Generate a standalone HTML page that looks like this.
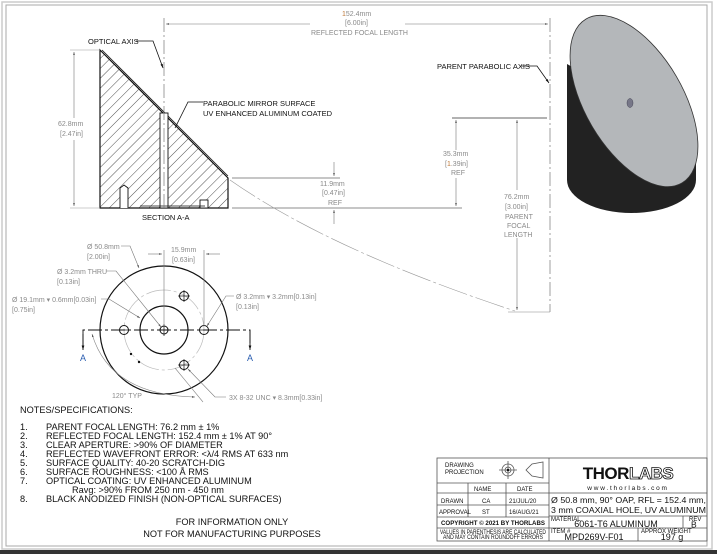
<!DOCTYPE html>
<html><head><meta charset="utf-8"><style>
html,body{margin:0;padding:0;background:#fff;}
svg{display:block;font-family:"Liberation Sans",sans-serif;}
.g{fill:#8a8a8a;font-size:7px;}
.o{fill:#c07a3a;}
.k{fill:#111;font-size:7.5px;}
.n{fill:#111;font-size:9.2px;}
.t{fill:#111;font-size:6px;}
</style></head><body>
<svg width="717" height="554" viewBox="0 0 717 554" xmlns="http://www.w3.org/2000/svg">
<defs>
<pattern id="h" width="7" height="7" patternUnits="userSpaceOnUse" patternTransform="rotate(45)">
<line x1="0" y1="0" x2="0" y2="7" stroke="#222" stroke-width="0.8"/></pattern>
<marker id="a" viewBox="0 0 10 10" refX="10" refY="5" markerWidth="7" markerHeight="5" orient="auto-start-reverse"><path d="M0,2 L10,5 L0,8 z" fill="#555"/></marker>
<marker id="ab" viewBox="0 0 10 10" refX="10" refY="5" markerWidth="7" markerHeight="5" orient="auto-start-reverse"><path d="M0,2 L10,5 L0,8 z" fill="#111"/></marker>
</defs>
<rect x="0" y="0" width="717" height="554" fill="#fff"/>
<rect x="2" y="2" width="710" height="547" fill="none" stroke="#ccc" stroke-width="1.5"/>
<rect x="6" y="5" width="701" height="541" fill="none" stroke="#aaa" stroke-width="1"/>
<rect x="0" y="550" width="717" height="4" fill="#333"/>

<!-- Section view -->
<path d="M100,50 L228,178 L228,208 L100,208 Z" fill="url(#h)" stroke="#111" stroke-width="1.2"/>
<line x1="102" y1="50" x2="228" y2="176" stroke="#111" stroke-width="0.8"/>
<rect x="160" y="113" width="8" height="95" fill="#fff" stroke="#111" stroke-width="0.9"/>
<path d="M120,208 V188 L124,185 L128,188 V208" fill="#fff" stroke="#111" stroke-width="0.9"/>
<rect x="200" y="200" width="8" height="8" fill="#fff" stroke="#111" stroke-width="0.9"/>
<line x1="140" y1="206" x2="205" y2="206" stroke="#111" stroke-width="0.8"/>
<line x1="164" y1="18" x2="164" y2="208" stroke="#777" stroke-width="0.7" stroke-dasharray="14,3,2,3"/>
<text x="142" y="220" class="k">SECTION A-A</text>
<text x="88" y="44" class="k">OPTICAL AXIS</text>
<polyline points="136,41 153,41 163,68" fill="none" stroke="#111" stroke-width="0.8" marker-end="url(#ab)"/>
<text x="203" y="106" class="k">PARABOLIC MIRROR SURFACE</text>
<text x="203" y="116" class="k">UV ENHANCED ALUMINUM COATED</text>
<polyline points="203,102 188,102 175,128" fill="none" stroke="#111" stroke-width="0.8"/>

<!-- 62.8 -->
<line x1="70" y1="50" x2="100" y2="50" stroke="#999" stroke-width="0.6"/>
<line x1="70" y1="208" x2="100" y2="208" stroke="#999" stroke-width="0.6"/>
<line x1="74" y1="52" x2="74" y2="118" stroke="#777" stroke-width="0.6" marker-start="url(#a)"/>
<line x1="74" y1="140" x2="74" y2="206" stroke="#777" stroke-width="0.6" marker-end="url(#a)"/>
<text x="58" y="126" class="g">62.8mm</text>
<text x="60" y="136" class="g">[2.47in]</text>

<!-- 152.4 -->
<line x1="166" y1="24" x2="310" y2="24" stroke="#777" stroke-width="0.6" marker-start="url(#a)"/>
<line x1="405" y1="24" x2="548" y2="24" stroke="#777" stroke-width="0.6" marker-end="url(#a)"/>
<text x="342" y="16" class="g"><tspan class="o">1</tspan>52.4mm</text>
<text x="345" y="25" class="g">[6.00in]</text>
<text x="311" y="35" class="g">REFLECTED FOCAL LENGTH</text>
<line x1="550" y1="18" x2="550" y2="312" stroke="#777" stroke-width="0.7" stroke-dasharray="14,3,2,3"/>
<text x="437" y="69" class="k">PARENT PARABOLIC AXIS</text>
<polyline points="521,66 537,66 549,83" fill="none" stroke="#111" stroke-width="0.8" marker-end="url(#ab)"/>

<!-- right dims -->
<line x1="452" y1="118" x2="547" y2="118" stroke="#666" stroke-width="1"/>
<line x1="232" y1="208" x2="462" y2="208" stroke="#666" stroke-width="0.8"/>
<line x1="232" y1="178" x2="340" y2="178" stroke="#666" stroke-width="0.8"/>
<line x1="456" y1="120" x2="456" y2="150" stroke="#777" stroke-width="0.6" marker-start="url(#a)"/>
<line x1="456" y1="178" x2="456" y2="206" stroke="#777" stroke-width="0.6" marker-end="url(#a)"/>
<text x="443" y="156" class="g">35.3mm</text>
<text x="445" y="166" class="g">[<tspan class="o">1</tspan>.39in]</text>
<text x="451" y="175" class="g">REF</text>
<line x1="334" y1="162" x2="334" y2="176" stroke="#777" stroke-width="0.6" marker-end="url(#a)"/>
<line x1="334" y1="224" x2="334" y2="210" stroke="#777" stroke-width="0.6" marker-end="url(#a)"/>
<text x="320" y="186" class="g">11.9mm</text>
<text x="322" y="195" class="g">[0.47in]</text>
<text x="328" y="205" class="g">REF</text>
<line x1="517" y1="120" x2="517" y2="190" stroke="#777" stroke-width="0.6" marker-start="url(#a)"/>
<line x1="517" y1="238" x2="517" y2="310" stroke="#777" stroke-width="0.6" marker-end="url(#a)"/>
<text x="504" y="199" class="g">76.2mm</text>
<text x="505" y="209" class="g">[3.00in]</text>
<text x="505" y="219" class="g">PARENT</text>
<text x="507" y="228" class="g">FOCAL</text>
<text x="504" y="237" class="g">LENGTH</text>
<line x1="508" y1="312" x2="550" y2="312" stroke="#888" stroke-width="0.6"/>
<path d="M230,180 Q330,250 515,311" fill="none" stroke="#999" stroke-width="0.6" stroke-dasharray="30,3,3,3"/>

<!-- cylinder -->
<path d="M567,64 L567,180 A64.5,33 0 0 0 696,180 L696,136 Z" fill="#222"/>
<ellipse cx="634" cy="101" rx="95" ry="49" transform="rotate(59.7 634 101)" fill="#b4b7ba" stroke="#333" stroke-width="0.8"/>
<ellipse cx="630" cy="103" rx="3" ry="4.5" fill="#778" stroke="#445" stroke-width="0.5"/>

<!-- front view -->
<circle cx="164" cy="330" r="64" fill="none" stroke="#111" stroke-width="1.2"/>
<circle cx="164" cy="330" r="24" fill="none" stroke="#111" stroke-width="1.2"/>
<circle cx="164" cy="330" r="40" fill="none" stroke="#bbb" stroke-width="0.7" stroke-dasharray="25,3,3,3"/>
<g fill="none" stroke="#111" stroke-width="1">
<circle cx="164" cy="330" r="4"/><circle cx="124" cy="330" r="4.5"/><circle cx="204" cy="330" r="4.5"/>
<circle cx="184" cy="296" r="4.5"/><circle cx="184" cy="365" r="4.5"/>
</g>
<g stroke="#111" stroke-width="0.7">
<line x1="158" y1="330" x2="170" y2="330"/><line x1="164" y1="324" x2="164" y2="336"/>
<line x1="118" y1="330" x2="130" y2="330"/><line x1="198" y1="330" x2="210" y2="330"/>
<line x1="184" y1="290" x2="184" y2="302"/><line x1="178" y1="296" x2="190" y2="296"/>
<line x1="184" y1="359" x2="184" y2="371"/><line x1="178" y1="365" x2="190" y2="365"/>
</g>
<circle cx="131" cy="354" r="1.2" fill="#111"/><circle cx="139" cy="362" r="1.2" fill="#111"/>
<polyline points="83,348 83,330 250,330 250,348" fill="none" stroke="#111" stroke-width="0.9" stroke-dasharray="14,3,3,3"/>
<line x1="83" y1="330" x2="83" y2="350" stroke="#111" stroke-width="0.9" marker-end="url(#ab)"/>
<line x1="250" y1="330" x2="250" y2="350" stroke="#111" stroke-width="0.9" marker-end="url(#ab)"/>
<text x="80" y="361" fill="#2a5db0" font-size="9">A</text>
<text x="247" y="361" fill="#2a5db0" font-size="9">A</text>
<line x1="164" y1="250" x2="164" y2="326" stroke="#777" stroke-width="0.6"/>
<line x1="204" y1="250" x2="204" y2="326" stroke="#777" stroke-width="0.6"/>
<line x1="148" y1="254" x2="162" y2="254" stroke="#777" stroke-width="0.6" marker-end="url(#a)"/>
<line x1="220" y1="254" x2="206" y2="254" stroke="#777" stroke-width="0.6" marker-end="url(#a)"/>
<text x="171" y="252" class="g">15.9mm</text>
<text x="172" y="262" class="g">[0.63in]</text>
<text x="87" y="249" class="g">Ø 50.8mm</text>
<text x="87" y="259" class="g">[2.00in]</text>
<polyline points="121,246 130,246 139,268" fill="none" stroke="#777" stroke-width="0.6" marker-end="url(#a)"/>
<text x="57" y="274" class="g">Ø 3.2mm THRU</text>
<text x="57" y="284" class="g">[0.13in]</text>
<polyline points="106,271 116,271 161,327" fill="none" stroke="#777" stroke-width="0.6" marker-end="url(#a)"/>
<text x="12" y="302" class="g">Ø 19.1mm ▾ 0.6mm[0.03in]</text>
<text x="12" y="312" class="g">[0.75in]</text>
<polyline points="101,299 109,299 140,318" fill="none" stroke="#777" stroke-width="0.6" marker-end="url(#a)"/>
<text x="236" y="299" class="g">Ø 3.2mm ▾ 3.2mm[0.13in]</text>
<text x="236" y="309" class="g">[0.13in]</text>
<polyline points="234,296 226,296 207,326" fill="none" stroke="#777" stroke-width="0.6" marker-end="url(#a)"/>
<text x="229" y="400" class="g">3X 8-32 UNC ▾ 8.3mm[0.33in]</text>
<polyline points="226,397 215,397 188,369" fill="none" stroke="#777" stroke-width="0.6" marker-end="url(#a)"/>
<text x="112" y="398" class="g">120° TYP</text>
<path d="M92,334 Q110,395 195,397" fill="none" stroke="#888" stroke-width="0.6" marker-start="url(#a)" marker-end="url(#a)"/>
<line x1="175" y1="368" x2="203" y2="402" stroke="#888" stroke-width="0.6"/>

<!-- notes -->
<text x="20" y="413" class="n" font-size="8.5">NOTES/SPECIFICATIONS:</text>
<g class="n">
<text x="20" y="430">1.</text><text x="46" y="430">PARENT FOCAL LENGTH: 76.2 mm ± 1%</text>
<text x="20" y="439">2.</text><text x="46" y="439">REFLECTED FOCAL LENGTH: 152.4 mm ± 1% AT 90°</text>
<text x="20" y="448">3.</text><text x="46" y="448">CLEAR APERTURE: &gt;90% OF DIAMETER</text>
<text x="20" y="457">4.</text><text x="46" y="457">REFLECTED WAVEFRONT ERROR: &lt;λ/4 RMS AT 633 nm</text>
<text x="20" y="466">5.</text><text x="46" y="466">SURFACE QUALITY: 40-20 SCRATCH-DIG</text>
<text x="20" y="475">6.</text><text x="46" y="475">SURFACE ROUGHNESS: &lt;100 Å RMS</text>
<text x="20" y="484">7.</text><text x="46" y="484">OPTICAL COATING: UV ENHANCED ALUMINUM</text>
<text x="72" y="493">Ravg: &gt;90% FROM 250 nm - 450 nm</text>
<text x="20" y="502">8.</text><text x="46" y="502">BLACK ANODIZED FINISH (NON-OPTICAL SURFACES)</text>
</g>
<text x="232" y="525" class="n" text-anchor="middle" font-size="9.8">FOR INFORMATION ONLY</text>
<text x="232" y="537" class="n" text-anchor="middle" font-size="9.8">NOT FOR MANUFACTURING PURPOSES</text>

<!-- title block -->
<g fill="none" stroke="#555" stroke-width="0.8">
<rect x="437" y="458" width="270" height="83"/>
<line x1="549" y1="458" x2="549" y2="541"/>
<line x1="437" y1="483" x2="549" y2="483"/>
<line x1="437" y1="493" x2="549" y2="493"/>
<line x1="437" y1="505" x2="549" y2="505"/>
<line x1="437" y1="517" x2="549" y2="517"/>
<line x1="437" y1="528" x2="549" y2="528"/>
<line x1="468" y1="483" x2="468" y2="517"/>
<line x1="506" y1="483" x2="506" y2="517"/>
<line x1="549" y1="493" x2="707" y2="493"/>
<line x1="549" y1="516" x2="707" y2="516"/>
<line x1="549" y1="528" x2="707" y2="528"/>
<line x1="683" y1="516" x2="683" y2="528"/>
<line x1="638" y1="528" x2="638" y2="541"/>
<circle cx="508" cy="470" r="6"/><circle cx="508" cy="470" r="3"/>
<line x1="499" y1="470" x2="517" y2="470"/><line x1="508" y1="461" x2="508" y2="479"/>
<path d="M526,470 L532,464 L543,462 L543,478 L532,476 Z"/>
</g>
<circle cx="508" cy="470" r="1.3" fill="#111"/>
<text x="445" y="467" class="t" font-size="6.5">DRAWING</text>
<text x="445" y="474" class="t" font-size="6.5">PROJECTION</text>
<text x="474" y="491" class="t">NAME</text><text x="517" y="491" class="t">DATE</text>
<text x="441" y="503" class="t" font-size="5.5">DRAWN</text><text x="482" y="503" class="t">CA</text><text x="509" y="503" class="t" font-size="5.5">21/JUL/20</text>
<text x="439" y="514" class="t" font-size="5.2">APPROVAL</text><text x="482" y="514" class="t">ST</text><text x="509" y="514" class="t" font-size="5.5">16/AUG/21</text>
<text x="441" y="525" class="t" font-size="4.5" font-weight="bold" textLength="104" lengthAdjust="spacingAndGlyphs">COPYRIGHT © 2021 BY THORLABS</text>
<text x="440" y="534" class="t" font-size="4.2" textLength="106" lengthAdjust="spacingAndGlyphs">VALUES IN PARENTHESIS ARE CALCULATED</text>
<text x="443" y="539" class="t" font-size="4.2" textLength="100" lengthAdjust="spacingAndGlyphs">AND MAY CONTAIN ROUNDOFF ERRORS</text>
<text x="628" y="479" font-size="17" font-weight="bold" text-anchor="middle" fill="#111" letter-spacing="-0.5">THOR<tspan fill="#fff" stroke="#111" stroke-width="0.8">LABS</tspan></text>
<text x="628" y="490" font-size="6.5" text-anchor="middle" fill="#111" letter-spacing="1.8">www.thorlabs.com</text>
<text x="551" y="503" font-size="8.6" fill="#111" textLength="155" lengthAdjust="spacingAndGlyphs">Ø 50.8 mm, 90° OAP, RFL = 152.4 mm,</text>
<text x="551" y="513" font-size="8.6" fill="#111" textLength="155" lengthAdjust="spacingAndGlyphs">3 mm COAXIAL HOLE, UV ALUMINUM</text>
<text x="551" y="521" class="t" font-size="5">MATERIAL</text>
<text x="616" y="527" font-size="9" fill="#111" text-anchor="middle">6061-T6 ALUMINUM</text>
<text x="689" y="521" class="t" font-size="5">REV</text>
<text x="691" y="527.5" font-size="8.5" fill="#111">B</text>
<text x="551" y="533" class="t" font-size="5">ITEM #</text>
<text x="594" y="540" font-size="9" fill="#111" text-anchor="middle">MPD269V-F01</text>
<text x="641" y="533" class="t" font-size="5">APPROX WEIGHT</text>
<text x="672" y="540" font-size="9" fill="#111" text-anchor="middle">197 g</text>
</svg>
</body></html>
